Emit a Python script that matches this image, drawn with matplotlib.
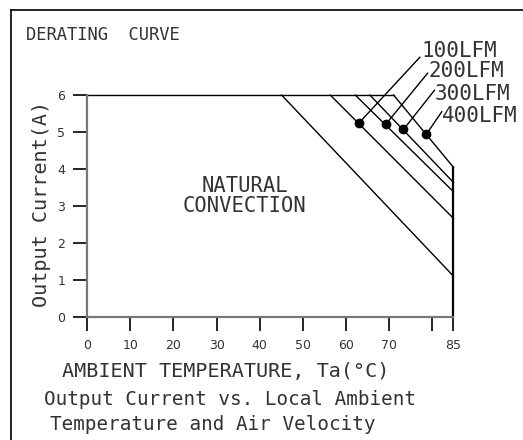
import numpy as np
import matplotlib
matplotlib.use("Agg")
import matplotlib.pyplot as plt
from matplotlib.lines import Line2D

plt.rcParams['font.family'] = ['DejaVu Sans Mono', 'DejaVu Sans']

# derating curves: (start temp at 6A, current at 85C)
curve_names = ["NATURAL", "100LFM", "200LFM", "300LFM", "400LFM"]
start_temp = [45.1, 56.4, 62.2, 65.6, 71.1]
end_current = [1.11, 2.67, 3.39, 3.64, 4.05]
max_current = 6
max_temp = 85

# marker dots and leader line ends for the air flow curves
dot_x = [63.1, 69.3, 73.4, 78.7]
dot_y = [5.25, 5.21, 5.07, 4.94]
lead_x = [77.2, 79.0, 80.6, 82.3]
lead_y = [7.02, 6.59, 6.13, 5.55]
lfm_labels = ["100LFM", "200LFM", "300LFM", "400LFM"]

xticks = [0, 10, 20, 30, 40, 50, 60, 70, 80, 85]
xticklabels = ["0", "10", "20", "30", "40", "50", "60", "70", "", "85"]
yticks = [0, 1, 2, 3, 4, 5, 6]

W, H = 523, 440
TXT = "#333333"


def px(x, y):
    # pixel position (from top-left) -> figure fraction
    return x / W, 1 - y / H


fig = plt.figure(figsize=(W / 100, H / 100), dpi=100)
ax = fig.add_axes([0.167, 0.279, 0.70, 0.505])
ax.set_xlim(0, max_temp)
ax.set_ylim(0, max_current)

# top flat part and right edge
ax.plot([0, start_temp[-1]], [max_current, max_current], color="black", lw=1.0, clip_on=False)
ax.plot([max_temp, max_temp], [0, end_current[-1]], color="black", lw=1.6, clip_on=False)
for s, e in zip(start_temp, end_current):
    ax.plot([s, max_temp], [max_current, e], color="black", lw=1.0, clip_on=False)

ax.plot(dot_x, dot_y, "o", color="black", ms=6, clip_on=False)
for dx, dy, lx, ly in zip(dot_x, dot_y, lead_x, lead_y):
    ax.plot([dx, lx], [dy, ly], color="black", lw=1.0, clip_on=False)

# LFM labels (left x, baseline y in pixels)
lab_px = [(421, 56.7), (428, 77.3), (435, 100), (442, 121.7)]
for (x, y), lab in zip(lab_px, lfm_labels):
    fig.text(*px(x, y), lab, ha="left", va="baseline", fontsize=15, color=TXT)

fig.text(*px(245, 192.3), "NATURAL", ha="center", va="baseline", fontsize=14.8, color=TXT)
fig.text(*px(245, 211.7), "CONVECTION", ha="center", va="baseline", fontsize=14.8, color=TXT)

for side in ["top", "right"]:
    ax.spines[side].set_visible(False)
for side in ["left", "bottom"]:
    ax.spines[side].set_color("#777777")
    ax.spines[side].set_linewidth(1.6)

ax.set_xticks(xticks)
ax.set_xticklabels(xticklabels, family="DejaVu Sans")
ax.set_yticks(yticks)
ax.set_yticklabels([str(v) for v in yticks], family="DejaVu Sans")
ax.tick_params(axis="both", direction="out", length=10, width=1.2, color="black",
               labelsize=9, labelcolor=TXT)
ax.tick_params(axis="x", pad=6)
ax.tick_params(axis="y", pad=6)

fig.text(*px(42, 204), "Output Current(A)", rotation=90, ha="center", va="center",
         fontsize=14.5, color=TXT)
fig.text(*px(26, 40), "DERATING  CURVE", ha="left", va="baseline", fontsize=12.3, color=TXT)
fig.text(*px(62, 377.3), "AMBIENT TEMPERATURE, Ta(\u00b0C)", ha="left", va="baseline",
         fontsize=14.5, color=TXT)
fig.text(*px(44, 405), "Output Current vs. Local Ambient", ha="left", va="baseline",
         fontsize=13.9, color=TXT)
fig.text(*px(50, 430), "Temperature and Air Velocity", ha="left", va="baseline",
         fontsize=13.9, color=TXT)

# outer frame
fig.add_artist(Line2D([11 / W, 11 / W], [0, 1 - 10 / H], color="black", lw=1.2))
fig.add_artist(Line2D([11 / W, 1], [1 - 10 / H, 1 - 10 / H], color="black", lw=1.2))

fig.savefig("out.png", dpi=100)
